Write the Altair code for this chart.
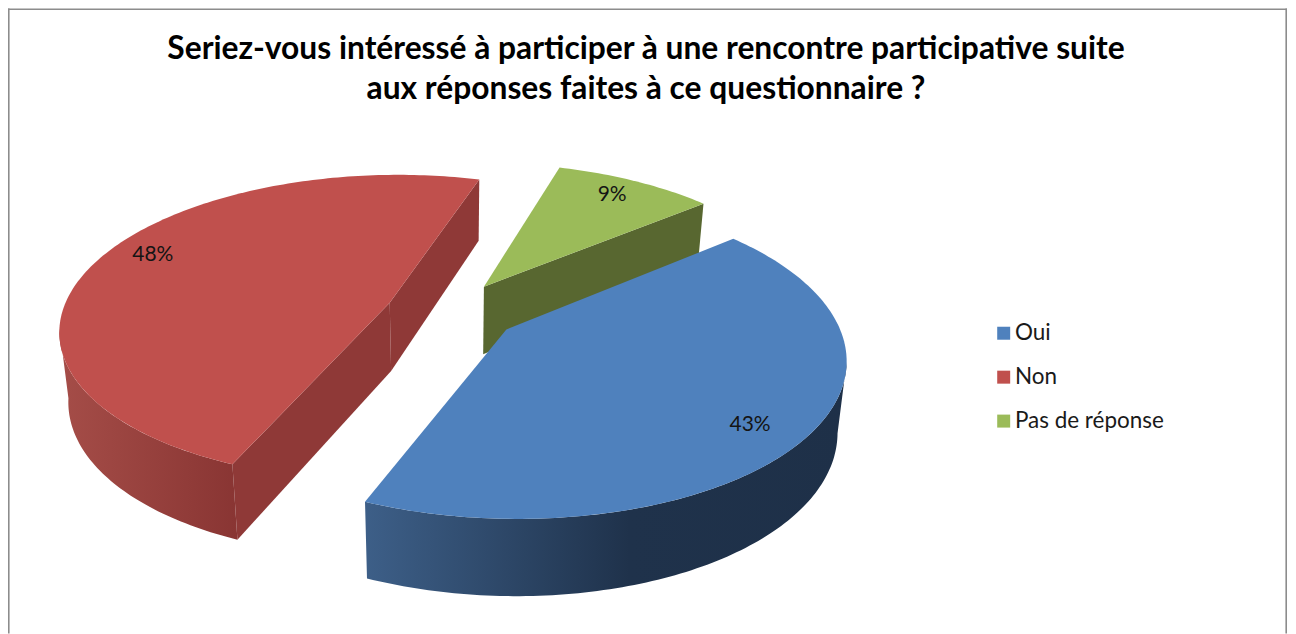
import math
import altair as alt

categories = ["Oui", "Non", "Pas de réponse"]
shares = [43, 48, 9]
colors = ["#4f81bd", "#c0504d", "#9bbb59"]
label_turn = [6, 5, 2]
title_lines = ["Seriez-vous intéressé à participer à une rencontre participative suite",
               "aux réponses faites à ce questionnaire ?"]

# layout of the 3-D exploded pie (page pixels minus the 8px margin)
FIRST_ANGLE = 47.0
EXPLODE = 0.2
CX, CY = 452 - 8, 312 - 8
AX, BY, PERSP = 328, 152, 0.165
LABEL_R = 0.85
RED_SILHOUETTE, BLUE_SILHOUETTE = 261, 97.5


def camera_turn(deg):
    # the oblique camera makes the far side of the rim read a little further round
    return deg + 1.64 + 2.4 * math.cos(math.radians(deg - 90))


def project(x, v):
    w = 1 + PERSP * v
    return CX + AX * x / w, CY - BY * v / w


def drop(x, v):
    sx, sy = project(x, v)
    return CX + 0.977 * (sx - CX), sy + 69 - 7.5 * v


slices = []
start = FIRST_ANGLE
for cat, share in zip(categories, shares):
    sweep = share / sum(shares) * 360
    mid = math.radians(start + sweep / 2)
    slices.append(dict(cat=cat, share=share, a0=start, a1=start + sweep,
                       ox=EXPLODE * math.sin(mid), ov=EXPLODE * math.cos(mid),
                       mid=start + sweep / 2))
    start += sweep


def rim(s, a0, a1, fn):
    n = max(2, int(abs(a1 - a0)))
    pts = []
    for i in range(n + 1):
        a = math.radians(camera_turn(a0 + (a1 - a0) * i / n))
        pts.append(list(fn(s["ox"] + math.sin(a), s["ov"] + math.cos(a))))
    return pts


def feature(ring, **props):
    ring = ring + [ring[0]]
    return {"type": "Feature", "properties": props,
            "geometry": {"type": "Polygon", "coordinates": [ring]}}


def top_face(s):
    apex = list(project(s["ox"], s["ov"]))
    return feature([apex] + rim(s, s["a0"], s["a1"], project), cat=s["cat"])


def outer_wall(s, a0, a1):
    return feature(rim(s, a0, a1, project) + rim(s, a0, a1, drop)[::-1], cat=s["cat"])


def radial_wall(s, angle):
    apex_t = list(project(s["ox"], s["ov"]))
    apex_b = list(drop(s["ox"], s["ov"]))
    a = math.radians(camera_turn(angle))
    px, pv = s["ox"] + math.sin(a), s["ov"] + math.cos(a)
    return feature([apex_t, list(project(px, pv)), list(drop(px, pv)), apex_b], cat=s["cat"])


blue, red, green = slices
PROJ = dict(type="identity", scale=1, translate=[0, 0])


def shape(features, fill):
    return alt.Chart(alt.Data(values=features)).mark_geoshape(
        fill=fill, strokeWidth=0).project(**PROJ)


def grad(stops):
    return alt.LinearGradient(
        gradient="linear", x1=0, x2=1, y1=0, y2=0,
        stops=[alt.GradientStop(offset=o, color=c) for o, c in stops])


red_radial = shape([radial_wall(red, red["a1"] % 360), radial_wall(red, red["a0"])], "#8f3937")
red_outer = shape([outer_wall(red, red["a0"], RED_SILHOUETTE)],
                  grad([(0, "#a54d48"), (1, "#893533")]))
green_radial = shape([radial_wall(green, green["a1"])], "#586730")
blue_outer = shape([outer_wall(blue, BLUE_SILHOUETTE, blue["a1"])],
                   grad([(0, "#3d5f88"), (0.55, "#1f324b"), (1, "#1e3048")]))

tops = alt.Chart(alt.Data(values=[top_face(s) for s in slices])).mark_geoshape(
    strokeWidth=0).project(**PROJ).encode(
    color=alt.Color(
        "properties.cat:N",
        scale=alt.Scale(domain=categories, range=colors),
        legend=alt.Legend(
            title=None, orient="none", legendX=986, legendY=314,
            symbolType="square", symbolSize=169, symbolStrokeWidth=0,
            labelFont="Lato", labelFontSize=22.5, labelColor="#1a1a1a",
            labelOffset=0, rowPadding=21),
    )
)

label_rows = []
for s, turn in zip(slices, label_turn):
    a = math.radians(s["mid"] + turn)
    lx, ly = project(s["ox"] + LABEL_R * math.sin(a), s["ov"] + LABEL_R * math.cos(a))
    label_rows.append({"x": lx, "y": ly, "label": f'{s["share"]}%'})

labels = alt.Chart(alt.Data(values=label_rows)).mark_text(
    font="Lato", fontSize=21, color="#141414", align="center", baseline="middle"
).encode(
    x=alt.X("x:Q", scale=None),
    y=alt.Y("y:Q", scale=None),
    text="label:N",
)

frame = [
    alt.Chart(alt.Data(values=[{"a": 0}])).mark_rule(color="#8c8c8c", strokeWidth=1.6).encode(**enc)
    for enc in [
        dict(x=alt.value(0.8), y=alt.value(0), y2=alt.value(626)),
        dict(x=alt.value(0), x2=alt.value(1281), y=alt.value(0.8)),
        dict(x=alt.value(1280.2), y=alt.value(0), y2=alt.value(626)),
    ]
]

chart = alt.layer(
    *frame, red_radial, red_outer, green_radial, blue_outer, tops, labels
).properties(
    width=1282, height=626, padding=0, background="white",
    autosize=alt.AutoSizeParams(type="none"),
    title=alt.TitleParams(
        text=title_lines, font="Lato", fontSize=31.8, fontWeight="bold", color="#000000",
        anchor="middle", frame="group", lineHeight=40, offset=0, dy=98, dx=-2,
    ),
).configure_view(stroke=None)

chart.save("out.html", embed_options={"renderer": "svg", "actions": False})
